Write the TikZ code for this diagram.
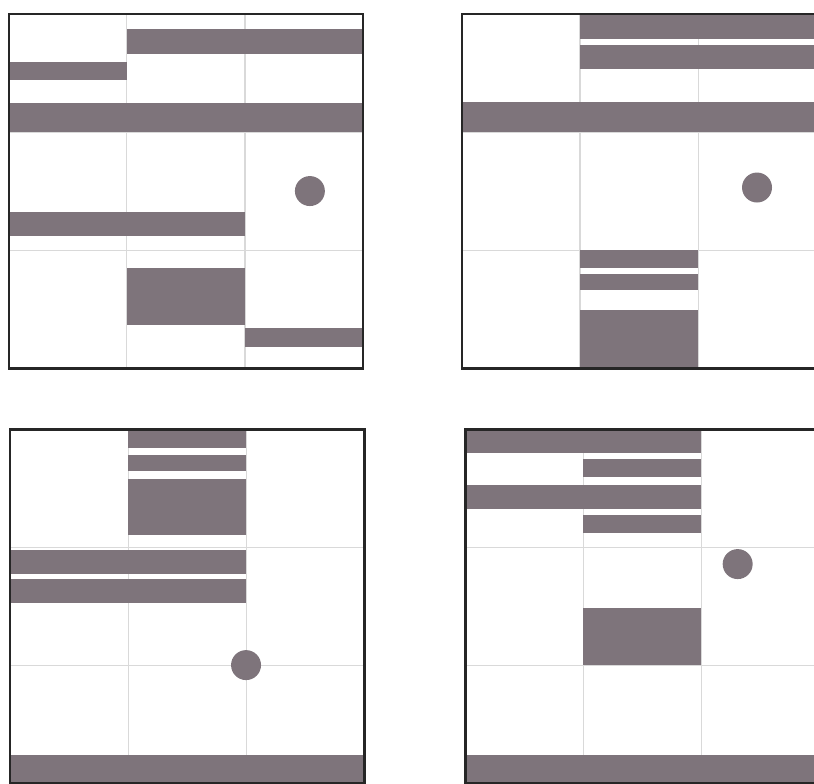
\documentclass[tikz,border=0pt]{standalone}
\usepackage{tikz}
\definecolor{slabgray}{HTML}{7E747B}

\begin{document}
\begin{tikzpicture}[
  frame/.style={draw=black!85, line width=0.7pt},
  cell/.style={draw=black!15, line width=0.25pt},
  slab/.style={fill=slabgray}
]
\useasboundingbox (0,0) rectangle (6.898,6.636);
\clip (0,0) rectangle (6.898,6.636);

% top left panel
\begin{scope}[shift={(0.076,3.517)}]
  \draw[cell] (0,0) grid (3,3);
  \fill[slab] (1,2.66) rectangle (3,2.87);
  \fill[slab] (0,2.44) rectangle (1,2.59);
  \fill[slab] (0,2.00) rectangle (3,2.25);
  \fill[slab] (2.55,1.50) circle (0.127);
  \fill[slab] (0,1.115) rectangle (2,1.32);
  \fill[slab] (1,0.363) rectangle (2,0.844);
  \fill[slab] (2,0.177) rectangle (3,0.337);
  \draw[frame] (0,0) rectangle (3,3);
\end{scope}

% top right panel
\begin{scope}[shift={(3.915,3.517)}]
  \draw[cell] (0,0) grid (3,3);
  \fill[slab] (1,2.79) rectangle (3,3);
  \fill[slab] (1,2.535) rectangle (3,2.74);
  \fill[slab] (0,2.00) rectangle (3,2.256);
  \fill[slab] (2.5,1.53) circle (0.127);
  \fill[slab] (1,0.845) rectangle (2,1.0);
  \fill[slab] (1,0.658) rectangle (2,0.80);
  \fill[slab] (1,0) rectangle (2,0.49);
  \draw[frame] (0,0) rectangle (3,3);
\end{scope}

% bottom left panel
\begin{scope}[shift={(0.085,0)}]
  \draw[cell] (0,0) grid (3,3);
  \fill[slab] (1,2.84) rectangle (2,3);
  \fill[slab] (1,2.644) rectangle (2,2.78);
  \fill[slab] (1,2.10) rectangle (2,2.576);
  \fill[slab] (0,1.77) rectangle (2,1.975);
  \fill[slab] (0,1.525) rectangle (2,1.73);
  \fill[slab] (2,1.0) circle (0.127);
  \fill[slab] (0,0) rectangle (3,0.237);
  \draw[frame] (0,0) rectangle (3,3);
\end{scope}

% bottom right panel
\begin{scope}[shift={(3.941,0)}]
  \draw[cell] (0,0) grid (3,3);
  \fill[slab] (0,2.80) rectangle (2,3);
  \fill[slab] (1,2.59) rectangle (2,2.75);
  \fill[slab] (0,2.32) rectangle (2,2.525);
  \fill[slab] (1,2.12) rectangle (2,2.27);
  \fill[slab] (2.31,1.856) circle (0.127);
  \fill[slab] (1,1.0) rectangle (2,1.48);
  \fill[slab] (0,0) rectangle (3,0.24);
  \draw[frame] (0,0) rectangle (3,3);
\end{scope}
\end{tikzpicture}
\end{document}
